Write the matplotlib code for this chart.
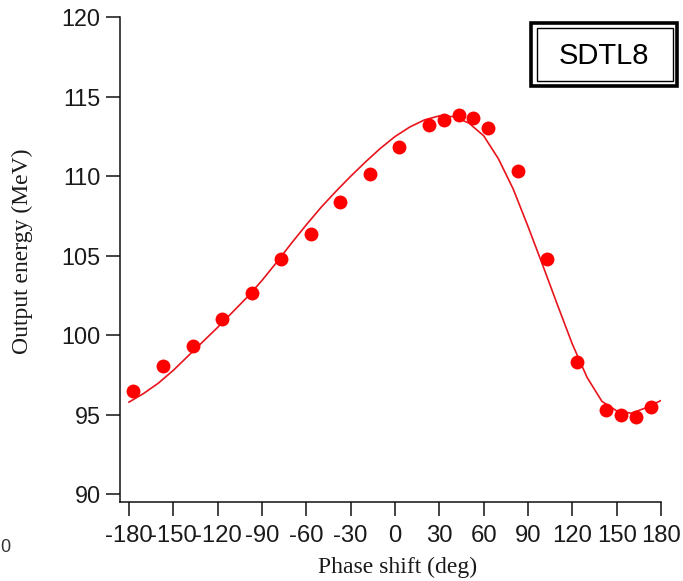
import matplotlib
matplotlib.use("Agg")
import matplotlib.pyplot as plt
from matplotlib.patches import Rectangle

# Measured output energy vs. RF phase shift
phase_meas = [-177, -157, -137, -117, -97, -77, -57, -37, -17, 3,
              23, 33, 43, 53, 63, 83, 103, 123, 143, 153, 163, 173]
energy_meas = [96.50, 98.07, 99.35, 101.03, 102.64, 104.78, 106.37, 108.38,
               110.14, 111.86, 113.23, 113.54, 113.86, 113.69, 113.06, 110.35,
               104.80, 98.34, 95.28, 94.99, 94.88, 95.51]

# Calculated curve
phase_calc = [-180, -170, -160, -150, -140, -130, -120, -110, -100, -90,
              -80, -70, -60, -50, -40, -30, -20, -10, 0, 10, 20, 30, 40,
              50, 60, 70, 80, 90, 100, 110, 120, 130, 140, 150, 160, 170, 180]
energy_calc = [95.8, 96.35, 97.0, 97.8, 98.7, 99.6, 100.5, 101.45, 102.4,
               103.45, 104.6, 105.8, 106.95, 108.05, 109.05, 110.0, 110.9,
               111.75, 112.5, 113.1, 113.55, 113.8, 113.75, 113.35, 112.55,
               111.1, 109.2, 106.85, 104.4, 101.9, 99.45, 97.35, 95.85, 95.25,
               95.1, 95.45, 95.9]

x_ticks = [-180, -150, -120, -90, -60, -30, 0, 30, 60, 90, 120, 150, 180]
y_ticks = [90, 95, 100, 105, 110, 115, 120]
panel_label = "SDTL8"

W, H = 683, 581
fig = plt.figure(figsize=(W / 100, H / 100), dpi=100)
ax = fig.add_axes([120.1 / W, (H - 502.3) / H, (661 - 120.1) / W, (502.3 - 17.3) / H])

ax.plot(phase_calc, energy_calc, color="#e8141c", lw=1.2, zorder=2)
ax.plot(phase_meas, energy_meas, "o", color="#ff0000", ms=10, mec="none", zorder=3)

ax.set_xlim(-186, 180)
ax.set_ylim(89.5, 120)
ax.set_xticks(x_ticks)
ax.set_yticks(y_ticks)

ax.set_xticklabels([str(v) for v in x_ticks], color="#1a1a1a",
                   family="Liberation Sans", size=17.2)
ax.set_yticklabels([str(v) for v in y_ticks], color="#1a1a1a",
                   family="Liberation Sans", size=16.8)

for side in ("top", "right"):
    ax.spines[side].set_visible(False)
for side in ("left", "bottom"):
    ax.spines[side].set_linewidth(1.1)
    ax.spines[side].set_color("#111111")
ax.tick_params(direction="out", length=10, width=1.1, color="#111111")
ax.tick_params(axis="x", pad=6.5)
ax.tick_params(axis="y", pad=4)

label_font = dict(family="Liberation Serif", size=17, color="#1a1a1a")
fig.text(398 / W, 1 - 567 / H, "Phase shift (deg)", ha="center", va="center", **label_font)
fig.text(22 / W, 1 - 251 / H, "Output energy (MeV)", ha="center", va="center",
         rotation=90, **label_font)

# Double-framed panel label
fig.add_artist(Rectangle((531 / W, 1 - 85.5 / H), (677 - 531) / W, (85.5 - 23.5) / H,
                         transform=fig.transFigure, fill=False, lw=2.6, ec="black"))
fig.add_artist(Rectangle((536.7 / W, 1 - 81 / H), (672.5 - 536.7) / W, (81 - 28) / H,
                         transform=fig.transFigure, fill=False, lw=1.0, ec="black"))
fig.text(604 / W, 1 - 56 / H, panel_label, ha="center", va="center",
         family="Liberation Sans", size=21, color="black")

# stray tick digit at the left margin
fig.text(0.5 / W, 1 - 547 / H, "0", ha="left", va="center",
         family="Liberation Sans", size=13, color="#333333")

fig.savefig("out.png", dpi=100)
